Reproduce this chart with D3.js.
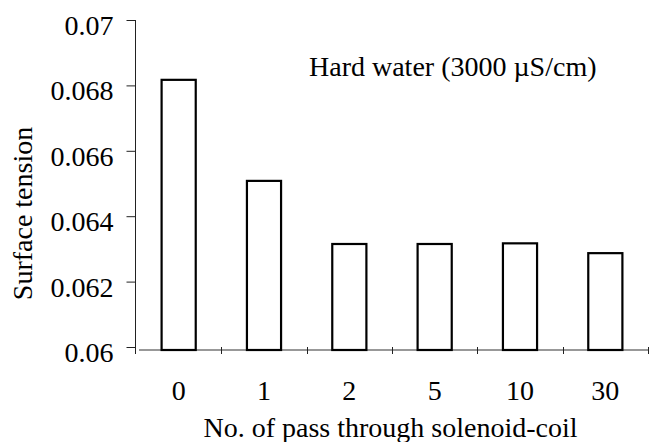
<!DOCTYPE html>
<html>
<head>
<meta charset="utf-8">
<script src="https://cdn.jsdelivr.net/npm/d3@7"></script>
<style>
  html, body { margin: 0; padding: 0; background: #fff; }
  svg { display: block; }
</style>
</head>
<body>
<svg id="chart" width="649" height="442"></svg>
<script>
const categories = ["0", "1", "2", "5", "10", "30"];
const values = [0.06817, 0.06508, 0.06315, 0.06315, 0.06317, 0.06287];
const yTicks = [0.06, 0.062, 0.064, 0.066, 0.068, 0.07];
const yTickLabels = ["0.06", "0.062", "0.064", "0.066", "0.068", "0.07"];
const title = "Hard water (3000 \u00B5S/cm)";
const xTitle = "No. of pass through solenoid-coil";
const yTitle = "Surface tension";

const FONT = "'Liberation Serif', 'Times New Roman', Times, serif";
const svg = d3.select("#chart");
const W = 649, H = 442;
const fs = 28;

const y = d3.scaleLinear().domain([0.06, 0.07]).range([347, 20]);
const x = d3.scaleBand().domain(categories).range([136, 648]).paddingInner(0.6).paddingOuter(0.3);
const xAxisY = 350;
const yAxisX = 135.5;

function styleText(sel) {
  return sel.style("font-family", FONT).style("font-size", fs + "px").style("fill", "#000");
}

// y axis
const yAxis = d3.axisLeft(y).tickValues(yTicks)
  .tickFormat((d, i) => yTickLabels[i]).tickSize(9).tickPadding(13);
const gy = svg.append("g").attr("transform", `translate(${yAxisX},0)`).call(yAxis)
  .attr("font-family", null).attr("font-size", null);
gy.select(".domain").remove();
gy.selectAll(".tick line").attr("stroke", "#222").attr("stroke-width", 1);
styleText(gy.selectAll(".tick text")).attr("dy", "0.52em");
svg.append("line").attr("x1", yAxisX).attr("x2", yAxisX)
  .attr("y1", y(0.07)).attr("y2", xAxisY + 4)
  .attr("stroke", "#222").attr("stroke-width", 1);

// x axis line
svg.append("line").attr("x1", 139).attr("x2", W)
  .attr("y1", xAxisY).attr("y2", xAxisY)
  .attr("stroke", "#333").attr("stroke-width", 1.2);
// x boundary ticks
const step = x.step();
const boundaries = categories.map((c, i) => x(c) - x.paddingInner() * step / 2 + step);
svg.selectAll(".xt").data(boundaries).enter().append("line")
  .attr("x1", d => Math.round(d) + 0.5).attr("x2", d => Math.round(d) + 0.5)
  .attr("y1", xAxisY - 3).attr("y2", xAxisY + 4)
  .attr("stroke", "#222").attr("stroke-width", 1);

// x tick labels
styleText(svg.selectAll(".xl").data(categories).enter().append("text")
  .attr("x", d => x(d) + x.bandwidth() / 2)
  .attr("y", 400)
  .attr("text-anchor", "middle"))
  .text(d => d);

// bars
svg.selectAll(".bar").data(values).enter().append("rect")
  .attr("x", (d, i) => x(categories[i]))
  .attr("y", d => y(d))
  .attr("width", x.bandwidth())
  .attr("height", d => xAxisY - y(d))
  .attr("fill", "#fff")
  .attr("stroke", "#000")
  .attr("stroke-width", 2.2);

// titles
styleText(svg.append("text").attr("x", 309).attr("y", 76)).text(title);
styleText(svg.append("text").attr("x", 390.5).attr("y", 437).attr("text-anchor", "middle")).text(xTitle);
styleText(svg.append("text").attr("transform", "translate(32,213.5) rotate(-90)")
  .attr("text-anchor", "middle")).text(yTitle);
</script>
</body>
</html>
